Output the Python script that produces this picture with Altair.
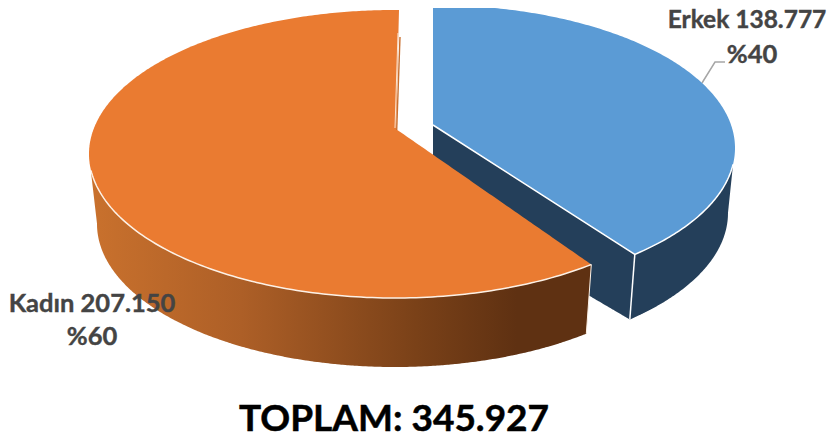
import math
import altair as alt
import pandas as pd

# Data
categories = ["Erkek", "Kadın"]
values = [138777, 207150]
value_labels = ["138.777", "207.150"]
percent_labels = ["%40", "%60"]
total_label = "TOPLAM: 345.927"

# Pie geometry (drawing units = picture pixels)
BLUE_TOP = (433, 148, 302, 143)
BLUE_BOT = (433, 213, 295, 143)
BLUE_APEX = (433, 125)
ORANGE_TOP = (395, 154, 306, 144)
ORANGE_BOT = (395, 224, 298, 143)
ORANGE_APEX = (396, 129)
BLUE_WARP = 0.956  # perspective squeezes the slice angle
ORANGE_WARP = 0.970

share = values[0] / sum(values)
blue_t = math.radians(360 * share * BLUE_WARP)
orange_t = math.radians(360 * share * ORANGE_WARP)


def pt(e, t):
    return (e[0] + e[2] * math.sin(t), e[1] - e[3] * math.cos(t))


def low(e, x):
    d = min(1, abs(x - e[0]) / e[2])
    return e[1] + e[3] * math.sqrt(1 - d * d)


def up(e, x):
    d = min(1, abs(x - e[0]) / e[2])
    return e[1] - e[3] * math.sqrt(1 - d * d)


def lerp(a, b, x):
    return a[1] + (b[1] - a[1]) * (x - a[0]) / (b[0] - a[0])


def grid(e, t0, t1, n=160):
    return [pt(e, t0 + (t1 - t0) * i / n)[0] for i in range(n + 1)]


blue_c = pt(BLUE_TOP, blue_t)
blue_c_b = (blue_c[0] - 5, low(BLUE_BOT, blue_c[0] - 5))
orange_c = pt(ORANGE_TOP, orange_t)
orange_c_b = (orange_c[0] - 5, low(ORANGE_BOT, orange_c[0] - 5))
orange_top_c = (399, 10)

# Blue top
xs = sorted(set(grid(BLUE_TOP, 0, math.pi / 2) + [blue_c[0]]))
blue_top = pd.DataFrame(
    [{"x": x, "y": up(BLUE_TOP, x),
      "y2": lerp(BLUE_APEX, blue_c, x) if x <= blue_c[0] else low(BLUE_TOP, x)} for x in xs]
)

# Blue walls
blue_end = (733, 165)
bx_max = BLUE_BOT[0] + BLUE_BOT[2] * 0.9999
floor_left = (433, 204)
xs = sorted(set(grid(BLUE_TOP, 0, math.asin(300 / 302)) + grid(BLUE_BOT, 0, math.pi / 2) + [blue_c[0], blue_c_b[0]]))
rows = []
for x in xs:
    if x > blue_end[0]:
        continue
    top = lerp(BLUE_APEX, blue_c, x) if x <= blue_c[0] else low(BLUE_TOP, x)
    if x <= blue_c_b[0]:
        bot = lerp(floor_left, blue_c_b, x)
    elif x <= bx_max:
        bot = low(BLUE_BOT, x)
    else:
        bot = lerp((bx_max, BLUE_BOT[1]), blue_end, x)
    rows.append({"x": x, "y": top, "y2": bot})
rows.append({"x": blue_end[0], "y": blue_end[1], "y2": blue_end[1]})
blue_wall = pd.DataFrame(rows)

# Orange wall
left_start = (91, 172)
ox_min = ORANGE_BOT[0] - ORANGE_BOT[2] * 0.9999
xs = sorted(set(grid(ORANGE_BOT, -math.pi / 2, 0) + grid(ORANGE_BOT, 0, math.pi / 2)
                + grid(ORANGE_TOP, -math.pi / 2, math.pi / 2)
                + [left_start[0], orange_c_b[0], orange_c[0]]))
rows = []
for x in xs:
    if x < left_start[0] or x > orange_c[0]:
        continue
    if x < ox_min:
        bot = lerp(left_start, (ox_min, ORANGE_BOT[1]), x)
    elif x <= orange_c_b[0]:
        bot = low(ORANGE_BOT, x)
    else:
        bot = lerp(orange_c_b, orange_c, x)
    rows.append({"x": x, "y": low(ORANGE_TOP, x), "y2": bot})
orange_wall = pd.DataFrame(rows)

# Orange top in three x-monotone pieces
rows = []
for x in grid(ORANGE_TOP, -math.pi / 2, 0) + [396.3]:
    if x <= 396.3:
        rows.append({"x": x, "y": up(ORANGE_TOP, x), "y2": low(ORANGE_TOP, x), "piece": "a"})
for i in range(4):
    x = 396 + i
    rows.append({"x": x, "y": up(ORANGE_TOP, x), "y2": lerp(ORANGE_APEX, orange_top_c, x), "piece": "b"})
xs = [x for x in grid(ORANGE_TOP, 0, math.pi / 2) if ORANGE_APEX[0] < x < orange_c[0]] + [ORANGE_APEX[0], orange_c[0]]
for x in sorted(xs):
    rows.append({"x": x, "y": lerp(ORANGE_APEX, orange_c, x), "y2": low(ORANGE_TOP, x), "piece": "c"})
orange_top = pd.DataFrame(rows)


def path(points, name):
    return pd.DataFrame([{"x": p[0], "y": p[1], "i": i, "k": name} for i, p in enumerate(points)])


arc_end = math.asin(300 / 302)
blue_edge = path(
    [BLUE_APEX, blue_c]
    + [pt(BLUE_TOP, blue_t + (math.pi - arc_end - blue_t) * i / 60) for i in range(61)],
    "blue",
)
blue_vert = path([blue_c, blue_c_b], "v")
# front arc of the orange top: from the left side, through the bottom, to the corner
start = 2 * math.pi - (math.pi - math.asin(304 / 306))
arc_pts = [pt(ORANGE_TOP, start + (orange_t - start) * i / 120) for i in range(121)]
orange_edge = path(arc_pts, "o")
orange_vert = path([orange_c, orange_c_b], "ov")
sliver_light = path([(398, 33), (395, 128)], "sl")
sliver_dark = path([(400, 37), (396.7, 130)], "sd")
leader = path([(702, 83), (715, 62), (725, 62)], "lead")

labels = pd.DataFrame({
    "x": [747, 752, 92, 92],
    "y": [28, 63, 312, 345],
    "t": [f"{categories[0]} {value_labels[0]}", percent_labels[0],
          f"{categories[1]} {value_labels[1]}", percent_labels[1]],
})
total = pd.DataFrame({"x": [394], "y": [431], "t": [total_label]})

X = alt.X("x:Q", axis=None, scale=alt.Scale(domain=[8, 828], nice=False, zero=False))
Y = alt.Y("y:Q", axis=None, scale=alt.Scale(domain=[432, 8], nice=False, zero=False))

wall_fill = alt.Gradient(
    gradient="linear", x1=0, x2=1, y1=0, y2=0,
    stops=[
        alt.GradientStop(color="#c9712d", offset=0),
        alt.GradientStop(color="#ad5f27", offset=0.3),
        alt.GradientStop(color="#7a4118", offset=0.65),
        alt.GradientStop(color="#5f3112", offset=0.85),
        alt.GradientStop(color="#5f3112", offset=1),
    ],
)


def area(df, color):
    enc = dict(x=X, y=Y, y2="y2:Q")
    if "piece" in df:
        enc["detail"] = "piece:N"
    return alt.Chart(df).mark_area(color=color, strokeWidth=0, opacity=1).encode(**enc)


def line(df, color, w):
    return alt.Chart(df).mark_line(color=color, strokeWidth=w).encode(x=X, y=Y, order="i:Q")


def text(df, size, color, heavy):
    return alt.Chart(df).mark_text(
        font="Lato", fontWeight="bold", fontSize=size, color=color, align="center", baseline="alphabetic",
        stroke=color, strokeWidth=heavy,
    ).encode(x=X, y=Y, text="t:N")


chart = alt.layer(
    line(leader, "#a6a6a6", 1.5),
    area(blue_wall, "#243f5a"),
    area(blue_top, "#5b9bd5"),
    line(blue_edge, "#ffffff", 1.5),
    line(blue_vert, "#ffffff", 1.5),
    area(orange_wall, wall_fill),
    area(orange_top, "#ea7b31"),
    line(orange_edge, "#fdf1e6", 1.5),
    line(orange_vert, "#fdf1e6", 1),
    line(sliver_light, "#fbe3d0", 1),
    line(sliver_dark, "#c96f2e", 1.4),
    text(labels.iloc[[0]], 24.5, "#444444", 0.4),
    text(labels.iloc[1:], 25.5, "#444444", 0.4),
    text(total, 37, "#000000", 0.5),
).properties(width=820, height=424, padding=0, autosize=alt.AutoSizeParams(type="none")).configure_view(stroke=None)

chart.save("out.html", embed_options={"renderer": "svg", "actions": False})
